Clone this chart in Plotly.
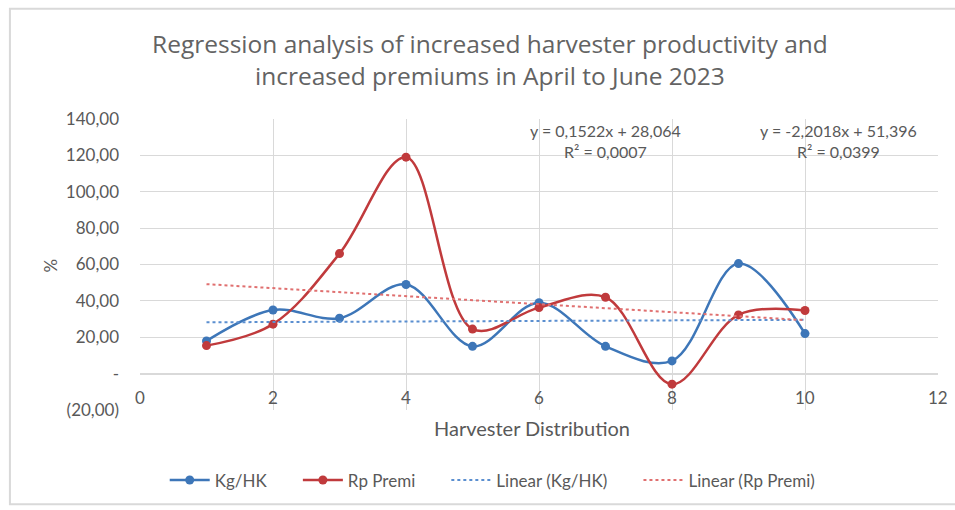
import plotly.graph_objects as go

# ---- data ----
x_vals = [1, 2, 3, 4, 5, 6, 7, 8, 9, 10]
kg_hk = [18.0, 35.0, 30.5, 49.0, 15.0, 39.0, 15.0, 7.0, 60.5, 22.0]
rp_premi = [15.4, 27.2, 66.0, 119.0, 24.5, 36.3, 42.0, -5.8, 32.3, 34.7]

# trend line coefficients as printed on the chart
kg_slope, kg_intercept = 0.1522, 28.064
rp_slope, rp_intercept = -2.2018, 51.396
trend_x = [1, 10]

eq_kg = "y = 0,1522x + 28,064<br>R² = 0,0007"
eq_rp = "y = -2,2018x + 51,396<br>R² = 0,0399"

y_tickvals = [-20, 0, 20, 40, 60, 80, 100, 120, 140]
y_ticktext = ["(20,00)", "-", "20,00", "40,00", "60,00", "80,00", "100,00", "120,00", "140,00"]
x_tickvals = [0, 2, 4, 6, 8, 10, 12]
x_ticktext = ["0", "2", "4", "6", "8", "10", "12"]

series_names = ["Kg/HK", "Rp Premi", "Linear (Kg/HK)", "Linear (Rp Premi)"]

title_text = ("Regression analysis of increased harvester productivity and<br>"
              "increased premiums in April to June 2023")

BLUE = "#3D76B8"
RED = "#C03A3C"
BLUE_T = "#5B8FD0"
RED_T = "#E07070"
GRID = "#D9D9D9"
TXT = "#595959"
FONT = "Lato"
PAD = "\u00a0" * 6  # legend spacing

fig = go.Figure()
fig.add_trace(go.Scatter(x=x_vals, y=kg_hk, name=series_names[0] + PAD, mode="lines+markers",
                         line=dict(color=BLUE, width=2.5, shape="spline", smoothing=1),
                         marker=dict(color=BLUE, size=9)))
fig.add_trace(go.Scatter(x=x_vals, y=rp_premi, name=series_names[1] + PAD, mode="lines+markers",
                         line=dict(color=RED, width=2.5, shape="spline", smoothing=1),
                         marker=dict(color=RED, size=9)))
fig.add_trace(go.Scatter(x=trend_x, y=[kg_slope * t + kg_intercept for t in trend_x],
                         name=series_names[2] + PAD, mode="lines",
                         line=dict(color=BLUE_T, width=2, dash="dot")))
fig.add_trace(go.Scatter(x=trend_x, y=[rp_slope * t + rp_intercept for t in trend_x],
                         name=series_names[3], mode="lines",
                         line=dict(color=RED_T, width=2, dash="dot")))

annotations = []
for xv, xt in zip(x_tickvals, x_ticktext):
    annotations.append(dict(x=xv, y=0, xref="x", yref="y", text=xt, showarrow=False,
                            yanchor="top", yshift=-11, font=dict(size=17, color=TXT, family=FONT)))
annotations.append(dict(x=7.0, y=128, xref="x", yref="y", text=eq_kg, showarrow=False,
                        font=dict(size=16, color=TXT, family=FONT), align="center"))
annotations.append(dict(x=10.5, y=128, xref="x", yref="y", text=eq_rp, showarrow=False,
                        font=dict(size=16, color=TXT, family=FONT), align="center"))
annotations.append(dict(x=-0.128, y=0.498, xref="paper", yref="paper", text="%", showarrow=False,
                        textangle=-90, font=dict(size=17, color=TXT, family=FONT)))
annotations.append(dict(x=0.491, y=-0.061, xref="paper", yref="paper", text="Harvester Distribution",
                        showarrow=False, yanchor="middle", font=dict(size=20, color=TXT, family=FONT)))

fig.update_layout(
    width=955, height=510,
    margin=dict(l=140, r=17, t=119, b=98),
    paper_bgcolor="white", plot_bgcolor="white",
    font=dict(family=FONT, color=TXT),
    title=dict(text=title_text, x=0.513, xref="container", xanchor="center",
               y=0.896, yanchor="middle", font=dict(size=24.5, color="#636363", family="Open Sans")),
    xaxis=dict(range=[0, 12], tickvals=x_tickvals, showticklabels=False, showgrid=True,
               gridcolor=GRID, gridwidth=1, zeroline=False, showline=False),
    yaxis=dict(range=[-20, 140], tickvals=y_tickvals, ticktext=y_ticktext, showgrid=True,
               gridcolor=GRID, gridwidth=1, zeroline=True, zerolinecolor=GRID, zerolinewidth=1.5,
               tickfont=dict(size=17, color=TXT, family=FONT), ticklabelstandoff=20),
    legend=dict(orientation="h", x=0.442, xanchor="center", y=-0.242, yanchor="middle",
                font=dict(size=17, color=TXT, family=FONT), bgcolor="rgba(0,0,0,0)",
                itemwidth=40),
    annotations=annotations,
    shapes=[dict(type="rect", xref="paper", yref="paper", x0=-0.163, x1=1.06, y0=-0.324, y1=1.379,
                 line=dict(color="#D9D9D9", width=2), fillcolor="rgba(0,0,0,0)", layer="below")],
    showlegend=True,
)

fig.write_html("out.html")
